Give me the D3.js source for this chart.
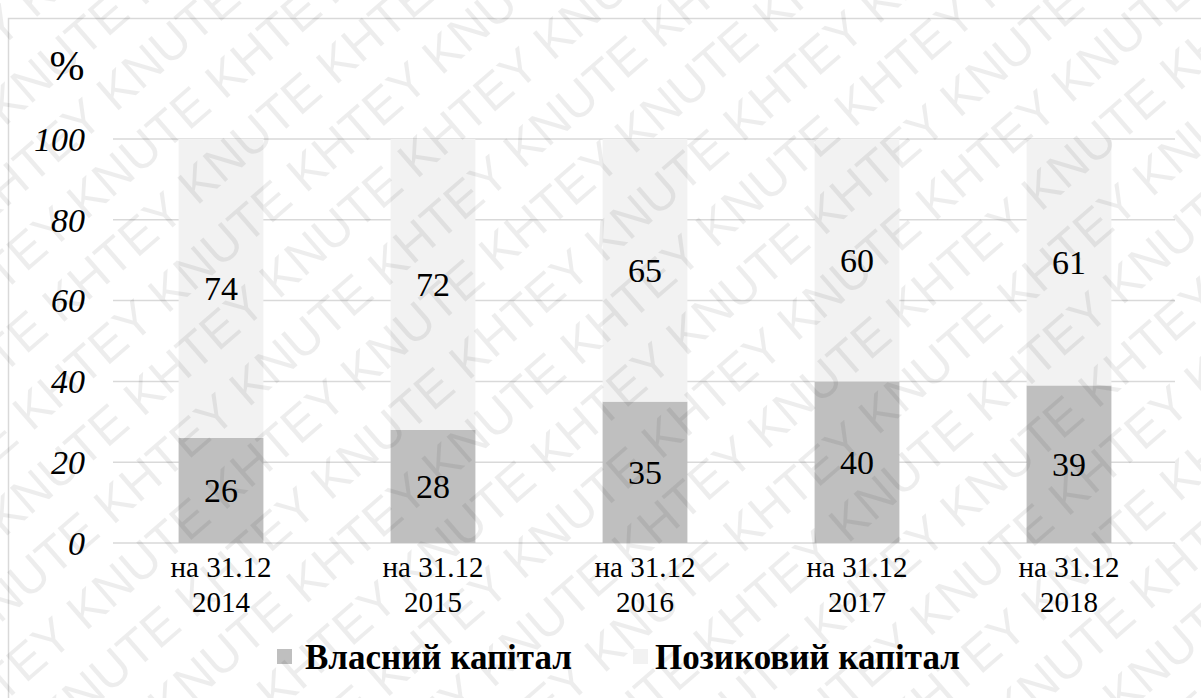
<!DOCTYPE html>
<html><head><meta charset="utf-8">
<script src="https://cdn.jsdelivr.net/npm/d3@7"></script>
<style>body{margin:0;background:#fff}svg{display:block}</style>
</head><body>
<script>
const categories = [["на 31.12","2014"],["на 31.12","2015"],["на 31.12","2016"],["на 31.12","2017"],["на 31.12","2018"]];
const ownCapital = [26, 28, 35, 40, 39];
const loanCapital = [74, 72, 65, 60, 61];
const seriesNames = ["Власний капітал", "Позиковий капітал"];
const seriesColors = ["#bfbfbf", "#f2f2f2"];
const yTicks = [0, 20, 40, 60, 80, 100];
const unitLabel = "%";
const watermarkWords = ["KNUTE", "KHTEY"];

(function(){
const SERIF = "Liberation Serif";
const W = 1201, H = 698;
const svg = d3.select("body").append("svg").attr("width", W).attr("height", H);
svg.append("rect").attr("x", 8.5).attr("y", 18.5).attr("width", W + 20).attr("height", H + 20)
  .attr("fill", "#fff").attr("stroke", "#d9d9d9").attr("stroke-width", 1.5);

const pl = 115, pr = 1175, pt = 139, pb = 543;
const x = d3.scaleBand().domain(d3.range(categories.length)).range([pl, pr]).paddingInner(0.6).paddingOuter(0.3);
const y = d3.scaleLinear().domain([0, 100]).range([pb, pt]);

svg.append("g").selectAll("line").data(yTicks).join("line")
  .attr("x1", pl - 2).attr("x2", pr).attr("y1", d => y(d)).attr("y2", d => y(d))
  .attr("stroke", "#d9d9d9").attr("stroke-width", 1.5);

const yAxis = d3.axisLeft(y).tickValues(yTicks).tickSize(0).tickPadding(0);
const ya = svg.append("g").attr("transform", `translate(85,0)`).call(yAxis);
ya.select(".domain").remove();
ya.selectAll("text").style("font-family", SERIF).style("font-style", "italic")
  .style("font-size", "34px").attr("fill", "#000").attr("dy", "0.33em");

svg.append("text").attr("x", 67).attr("y", 80).attr("text-anchor", "middle")
  .style("font-family", SERIF).style("font-size", "42px").text(unitLabel);

const stack = categories.map((c, i) => ({i, a: ownCapital[i], b: loanCapital[i]}));
const g = svg.append("g");
g.selectAll("rect.own").data(stack).join("rect").attr("class", "own")
  .attr("x", d => x(d.i)).attr("width", x.bandwidth())
  .attr("y", d => y(d.a)).attr("height", d => y(0) - y(d.a)).attr("fill", seriesColors[0]);
g.selectAll("rect.loan").data(stack).join("rect").attr("class", "loan")
  .attr("x", d => x(d.i)).attr("width", x.bandwidth())
  .attr("y", d => y(d.a + d.b)).attr("height", d => y(d.a) - y(d.a + d.b)).attr("fill", seriesColors[1]);

const lab = svg.append("g").attr("text-anchor", "middle");
lab.selectAll("text.o").data(stack).join("text").attr("class", "o")
  .style("font-family", SERIF).style("font-size", "34px")
  .attr("x", d => x(d.i) + x.bandwidth() / 2).attr("y", d => (y(0) + y(d.a)) / 2).attr("dy", "0.35em").text(d => d.a);
lab.selectAll("text.l").data(stack).join("text").attr("class", "l")
  .style("font-family", SERIF).style("font-size", "34px")
  .attr("x", d => x(d.i) + x.bandwidth() / 2).attr("y", d => (y(d.a) + y(d.a + d.b)) / 2).attr("dy", "0.35em").text(d => d.b);

const cat = svg.append("g").attr("text-anchor", "middle");
categories.forEach((c, i) => {
  const cx = x(i) + x.bandwidth() / 2;
  const t = cat.append("text").attr("x", cx).attr("y", 577)
    .style("font-family", SERIF).style("font-size", "29px");
  t.append("tspan").attr("x", cx).text(c[0]);
  t.append("tspan").attr("x", cx).attr("dy", 35).text(c[1]);
});

const legX = [277, 633], legT = [305, 655];
seriesNames.forEach((n, i) => {
  svg.append("rect").attr("x", legX[i]).attr("y", 649).attr("width", 15).attr("height", 15).attr("fill", seriesColors[i]);
  svg.append("text").attr("x", legT[i]).attr("y", 669)
    .style("font-family", SERIF).style("font-weight", "bold").style("font-size", "35px").text(n);
});

const wm = svg.append("g").attr("fill", "#000").attr("fill-opacity", 0.07)
  .attr("transform", "rotate(-41 600 349)");
for (let r = -13; r <= 13; r++) {
  const t2 = d3.range(12).map(k => watermarkWords[(k + r + 100) % 2]).join(" ");
  wm.append("text").attr("x", -700 + (r % 2 ? 90 : 0)).attr("y", 349 + r * 62)
    .style("font-family", "Liberation Sans").style("font-size", "50px").text(t2);
}
})();
</script>
</body></html>
